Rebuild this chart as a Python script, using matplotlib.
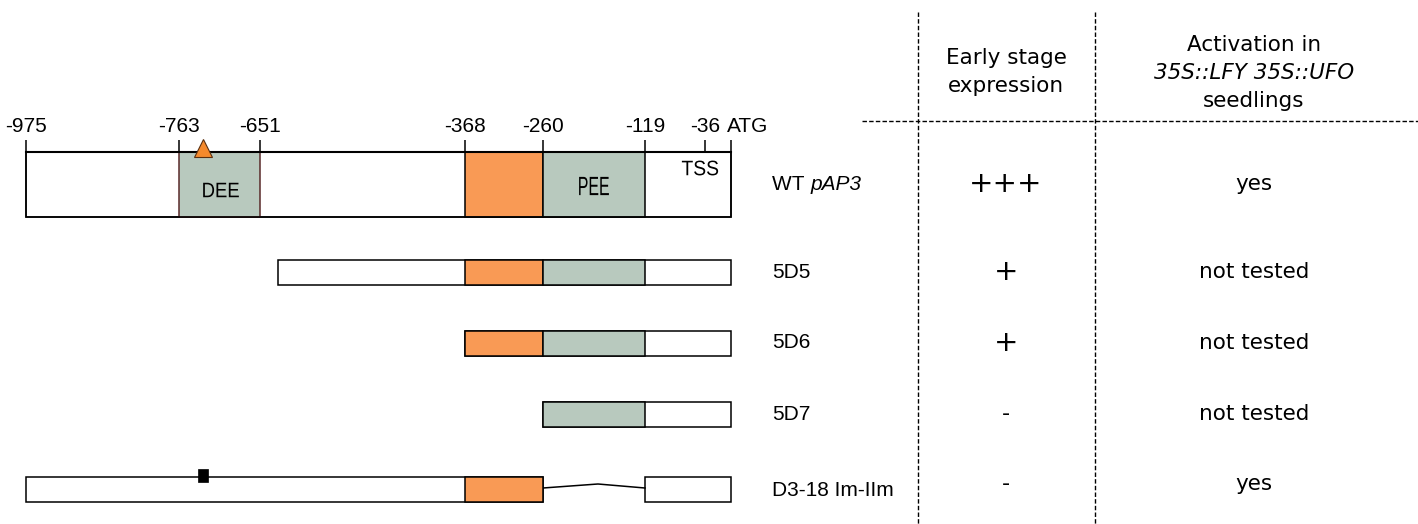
import matplotlib
matplotlib.use("Agg")
import matplotlib.pyplot as plt
from matplotlib.patches import Rectangle, PathPatch
from matplotlib.textpath import TextPath
from matplotlib.font_manager import FontProperties
from matplotlib.transforms import Affine2D

# ---------------- data ----------------
tick_positions = [-975, -763, -651, -368, -260, -119, -36, 0]
tick_labels = ['-975', '-763', '-651', '-368', '-260', '-119', '-36', 'ATG']

construct_names = ['WT', '5D5', '5D6', '5D7', 'D3-18 Im-IIm']
construct_starts = [-975, -627, -368, -260, -975]
construct_end = 0

element_starts = [-763, -368, -260]
element_ends = [-651, -260, -119]
element_names = ['DEE', '', 'PEE']
element_kinds = ['green', 'orange', 'green']
# which elements each construct carries (index into element lists)
construct_elements = [[0, 1, 2], [1, 2], [1, 2], [2], [1]]

deletion_start = -260      # D3-18 Im-IIm deletion
deletion_end = -119
deletion_peak = -184
mutation_site = -730       # triangle (WT) / black box (D3-18)

expression = ['+++', '+', '+', '-', '-']
activation = ['yes', 'not tested', 'not tested', 'not tested', 'yes']

# ---------------- styling / layout ----------------
W, H = 1418, 524
ORANGE = '#F99A55'
GREEN = '#B8C9BE'
TRI = '#F58A2C'
DIAG_FONT = ['Liberation Sans', 'DejaVu Sans']
TAB_FONT = ['DejaVu Sans']

row_centers = [184.5, 272, 343, 414, 489]
row_heights = [65, 25, 25, 25, 25]
table_y = [184, 272, 343, 414, 484]

fig = plt.figure(figsize=(W / 100, H / 100), dpi=100)
# diagram axes: x in bp (drawn first, underneath)
dax = fig.add_axes([0, 0, 1, 1])
px_per_bp = 705 / 975.0
x0_px = 731
dax.set_xlim(-x0_px / px_per_bp, (W - x0_px) / px_per_bp)
dax.set_ylim(H, 0)
dax.axis('off')
# pixel-style overlay axes for labels / table
pax = fig.add_axes([0, 0, 1, 1])
pax.set_xlim(0, W)
pax.set_ylim(H, 0)
pax.axis('off')
pax.patch.set_alpha(0)

LW = 1.1


def condensed_text(ax, xc, yc, s, em_px, xscale, zorder=6):
    """Draw horizontally condensed text centred at (xc, yc) in pixel axes."""
    tp = TextPath((0, 0), s, size=1.0, prop=FontProperties(family=DIAG_FONT))
    bb = tp.get_extents()
    tr = (Affine2D().translate(-(bb.x0 + bb.x1) / 2, -(bb.y0 + bb.y1) / 2)
          .scale(em_px * xscale, -em_px).translate(xc, yc))
    ax.add_patch(PathPatch(tr.transform_path(tp), facecolor='black', edgecolor='none',
                           zorder=zorder))


# ticks and tick labels
for pos, lab in zip(tick_positions, tick_labels):
    dax.plot([pos, pos], [140, 152], color='black', lw=LW, solid_capstyle='butt')
    if lab == 'ATG':
        dax.annotate(lab, (pos, 127), xytext=(-3, 0), textcoords='offset points',
                     ha='left', va='center', fontsize=15, family=DIAG_FONT)
    else:
        dax.text(pos, 127, lab, ha='center', va='center', fontsize=15, family=DIAG_FONT)

# constructs
for i, (name, start) in enumerate(zip(construct_names, construct_starts)):
    yc = row_centers[i]
    h = row_heights[i]
    y0 = yc - h / 2
    is_del = name.startswith('D3')
    if is_del:
        dax.add_patch(Rectangle((start, y0), deletion_start - start, h, facecolor='white',
                                edgecolor='black', lw=LW, zorder=2))
        dax.add_patch(Rectangle((deletion_end, y0), construct_end - deletion_end, h,
                                facecolor='white', edgecolor='black', lw=LW, zorder=2))
        dax.plot([deletion_start, deletion_peak, deletion_end], [yc - 1, yc - 5, yc - 1],
                 color='black', lw=LW, zorder=2)
    else:
        dax.add_patch(Rectangle((start, y0), construct_end - start, h, facecolor='white',
                                edgecolor='black', lw=LW, zorder=2))
    for k in construct_elements[i]:
        es, ee, en, ek = element_starts[k], element_ends[k], element_names[k], element_kinds[k]
        fc = GREEN if ek == 'green' else ORANGE
        ec = '#5a2a2a' if en == 'DEE' else 'black'
        dax.add_patch(Rectangle((es, y0), ee - es, h, facecolor=fc, edgecolor=ec,
                                lw=LW, zorder=3))
    if i == 0:
        dax.add_patch(Rectangle((start, y0), construct_end - start, h, facecolor='none',
                                edgecolor='black', lw=LW, zorder=4))
        dax.plot([start, construct_end], [y0, y0], color='black', lw=LW + 0.4, zorder=4)
        dax.plot([mutation_site], [y0 - 4.5], marker='^', markersize=13,
                 markerfacecolor=TRI, markeredgecolor='#5a3010', markeredgewidth=0.8,
                 zorder=5, clip_on=False)
    if is_del:
        dax.add_patch(Rectangle((mutation_site - 7, y0 - 8), 14, 13, facecolor='black',
                                edgecolor='black', lw=0.5, zorder=5))

# element labels in the WT construct (pixel layout)
condensed_text(pax, 221, 190, 'DEE', 21, 0.88)
condensed_text(pax, 594, 186, 'PEE', 26.5, 0.60)
condensed_text(pax, 700, 168, 'TSS', 21, 0.92)

# row labels
for i, name in enumerate(construct_names):
    y = row_centers[i] if i < 4 else 490
    if name == 'WT':
        pax.text(772, y, 'WT ', ha='left', va='center', fontsize=15, family=DIAG_FONT)
        pax.text(811, y, 'pAP3', ha='left', va='center', fontsize=15, family=DIAG_FONT,
                 style='italic')
    else:
        pax.text(772, y, name, ha='left', va='center', fontsize=15, family=DIAG_FONT)

# table separators
dash = (0, (3.2, 1.6))
for xv in (918, 1095):
    pax.plot([xv, xv], [12, H], color='black', lw=1.0, linestyle=dash)
pax.plot([862, W], [121, 121], color='black', lw=1.0, linestyle=dash)

# headers
pax.text(1006, 58, 'Early stage', ha='center', va='center', fontsize=15.5, family=TAB_FONT)
pax.text(1006, 86, 'expression', ha='center', va='center', fontsize=15.5, family=TAB_FONT)
pax.text(1254, 45, 'Activation in', ha='center', va='center', fontsize=15.5, family=TAB_FONT)
pax.text(1254, 73, '35S::LFY 35S::UFO', ha='center', va='center', fontsize=15.5,
         family=TAB_FONT, style='italic')
pax.text(1254, 101, 'seedlings', ha='center', va='center', fontsize=15.5, family=TAB_FONT)

# table values
for i in range(len(expression)):
    e = expression[i]
    if e.startswith('+'):
        pax.text(1006, table_y[i], e, ha='center', va='center', fontsize=21, family=TAB_FONT)
    else:
        pax.text(1006, table_y[i], e, ha='center', va='center', fontsize=16, family=TAB_FONT)
    pax.text(1254, table_y[i], activation[i], ha='center', va='center', fontsize=15.5,
             family=TAB_FONT)

fig.savefig('out.png', dpi=100)
